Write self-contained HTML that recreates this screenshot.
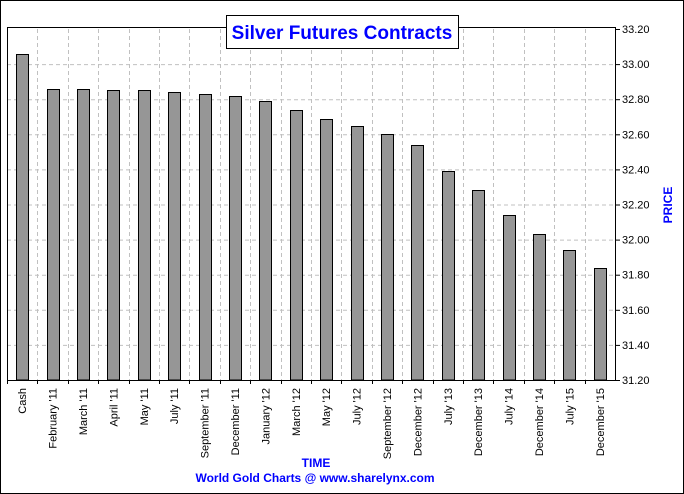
<!DOCTYPE html>
<html><head><meta charset="utf-8"><style>
body{margin:0;background:#fff}
svg{display:block;font-family:"Liberation Sans",sans-serif}
</style></head><body>
<svg id="c" width="684" height="494">
<rect x="0.5" y="0.5" width="683" height="493" fill="#fff" stroke="#000"/>
<g id="grid"></g><g id="bars"></g><g id="axis"></g>
<rect x="226.5" y="15.5" width="232" height="33" fill="#fff" stroke="#000"/>
<text x="342" y="39" text-anchor="middle" font-size="19" font-weight="bold" fill="#0000ff">Silver Futures Contracts</text>
<text transform="translate(672,205) rotate(-90)" text-anchor="middle" font-size="12" font-weight="bold" fill="#0000ff">PRICE</text>
<text x="316" y="467" text-anchor="middle" font-size="12" font-weight="bold" fill="#0000ff">TIME</text>
<text x="315" y="482" text-anchor="middle" font-size="12" font-weight="bold" fill="#0000ff">World Gold Charts @ www.sharelynx.com</text>
</svg>
<script>
const categories=["Cash","February '11","March '11","April '11","May '11","July '11","September '11","December '11","January '12","March '12","May '12","July '12","September '12","December '12","July '13","December '13","July '14","December '14","July '15","December '15"];
const values=[33.06,32.86,32.86,32.85,32.85,32.84,32.83,32.82,32.79,32.74,32.69,32.65,32.60,32.54,32.39,32.28,32.14,32.03,31.94,31.84];
const yTicks=[31.2,31.4,31.6,31.8,32.0,32.2,32.4,32.6,32.8,33.0,33.2];
const NS="http://www.w3.org/2000/svg";
const L=7,R=615,T=29,B=380,yMin=31.2,yMax=33.2;
const slot=(R-L)/categories.length;
const y=v=>B-(v-yMin)/(yMax-yMin)*(B-T);
const xc=i=>L+(i+0.5)*slot;
function mk(tag,attrs,parent){const e=document.createElementNS(NS,tag);for(const k in attrs)e.setAttribute(k,attrs[k]);parent.appendChild(e);return e;}
const grid=document.getElementById('grid'),bars=document.getElementById('bars'),axis=document.getElementById('axis');
yTicks.forEach((t,i)=>{
  if(i>0&&i<yTicks.length-1){const g=mk('line',{x1:L,x2:R,y1:y(t)+0.5,y2:y(t)+0.5,stroke:'#c0c0c0','stroke-dasharray':'4,3'},grid);
  
  }
  const tk=mk('line',{x1:R,x2:R+5,y1:y(t)+0.5,y2:y(t)+0.5,stroke:'#000'},axis);
  
  
  const lb=mk('text',{x:R+7,y:y(t)+4,'font-size':'11',fill:'#000'},axis);
  lb.textContent=t.toFixed(2);
  
  
});
for(let i=1;i<categories.length;i++){
  const xx=Math.round(L+i*slot)+0.5;
  const g=mk('line',{x1:xx,x2:xx,y1:T,y2:B,stroke:'#c0c0c0','stroke-dasharray':'4,3'},grid);
  
  
}
categories.forEach((c,i)=>{
  const bw=12,x0=Math.round(xc(i)-bw/2)+0.5,top=Math.round(y(values[i]))+0.5;
  const r=mk('rect',{x:x0,y:top,width:bw,height:B-top,fill:'#969696',stroke:'#000'},bars);
  
  
  const tk=mk('line',{x1:Math.round(L+i*slot)+0.5,x2:Math.round(L+i*slot)+0.5,y1:B,y2:B+4,stroke:'#000'},axis);
  
  
  const lb=mk('text',{transform:`translate(${xc(i)+4},388) rotate(-90)`,'text-anchor':'end','font-size':'11',fill:'#000'},axis);
  lb.textContent=c;
  
  
});
const f=mk('path',{d:`M${L+0.5},${B+0.5}V${T-1.5}H${R+0.5}V${B+0.5}H${L+0.5}`,fill:'none',stroke:'#000'},axis);


</script>
</body></html>
